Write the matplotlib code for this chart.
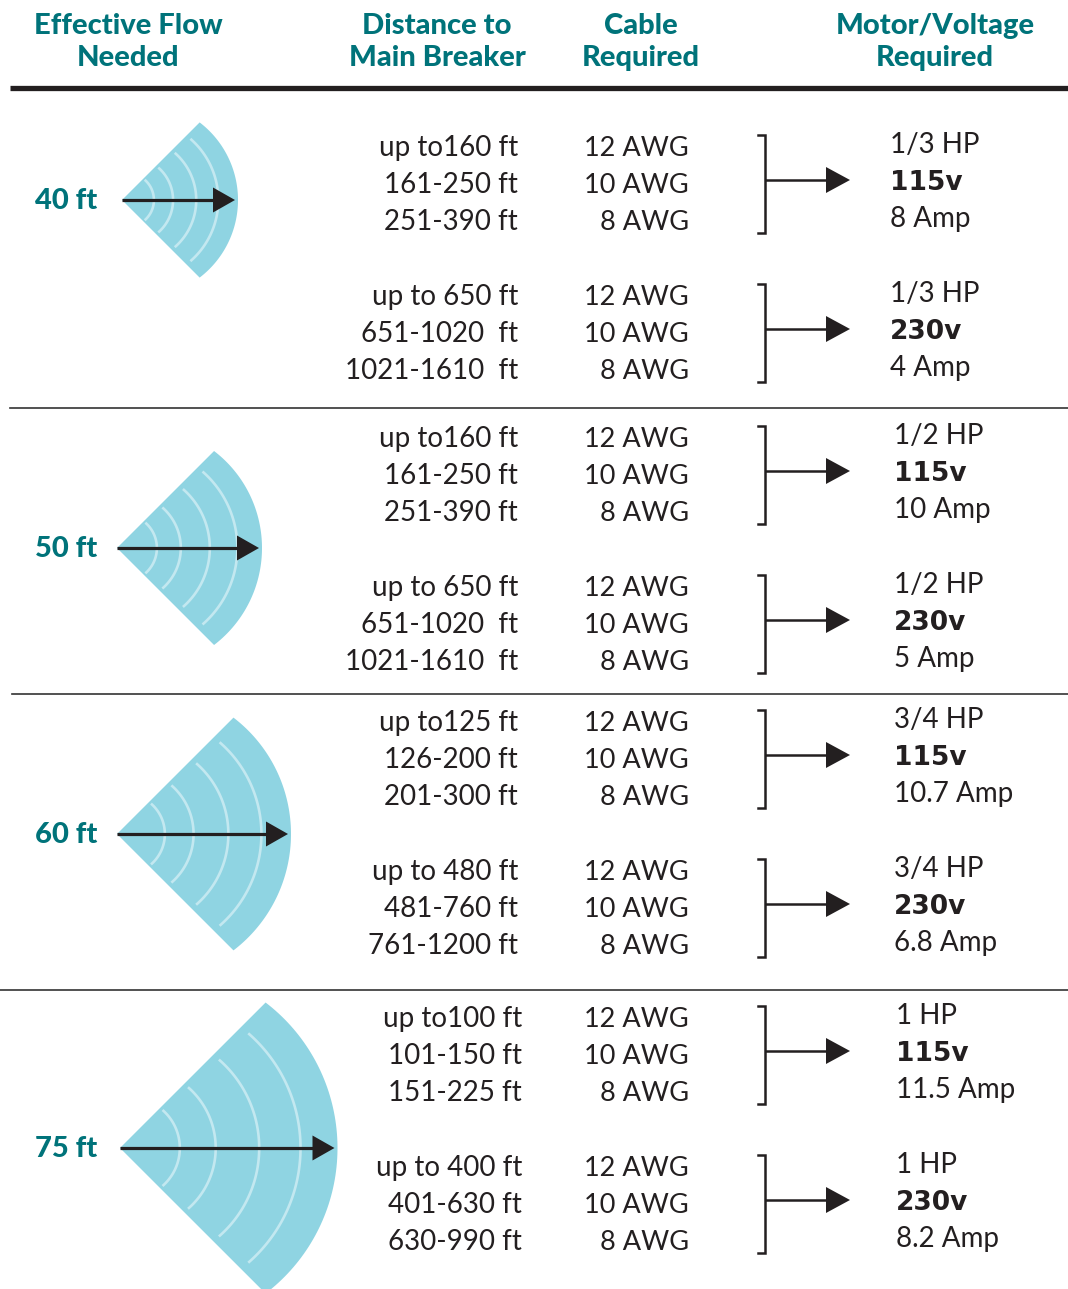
import matplotlib
matplotlib.use("Agg")
import numpy as np
import matplotlib.pyplot as plt
from matplotlib.patches import Polygon

# data
headers = ["Effective Flow\nNeeded", "Distance to\nMain Breaker", "Cable\nRequired", "Motor/Voltage\nRequired"]
flow_labels = ["40 ft", "50 ft", "60 ft", "75 ft"]
flow_ft = [40, 50, 60, 75]
distances = [
    [["up to160 ft", "161-250 ft", "251-390 ft"], ["up to 650 ft", "651-1020  ft", "1021-1610  ft"]],
    [["up to160 ft", "161-250 ft", "251-390 ft"], ["up to 650 ft", "651-1020  ft", "1021-1610  ft"]],
    [["up to125 ft", "126-200 ft", "201-300 ft"], ["up to 480 ft", "481-760 ft", "761-1200 ft"]],
    [["up to100 ft", "101-150 ft", "151-225 ft"], ["up to 400 ft", "401-630 ft", "630-990 ft"]],
]
cables = ["12 AWG", "10 AWG", "8 AWG"]
horsepower = ["1/3 HP", "1/2 HP", "3/4 HP", "1 HP"]
volts = ["115v", "230v"]
amps = [["8 Amp", "4 Amp"], ["10 Amp", "5 Amp"], ["10.7 Amp", "6.8 Amp"], ["11.5 Amp", "8.2 Amp"]]

TEAL = "#00737a"
DARK = "#231f20"
FAN = "#8fd4e2"
RING = "#c3e8f0"
FONT = ["Lato", "DejaVu Sans"]

fig = plt.figure(figsize=(10.68, 12.89), dpi=100)
ax = fig.add_axes([0, 0, 1, 1])
ax.set_xlim(0, 1068)
ax.set_ylim(1289, 0)
ax.axis("off")

# header
for x, h in zip([128, 437, 641, 935], headers):
    ax.text(x, 42, h, ha="center", va="center", color=TEAL, fontsize=21,
            fontweight=900, family=FONT, linespacing=1.3)
ax.plot([10, 1068], [88, 88], color=DARK, lw=3.8, solid_capstyle="butt")

# separators
for y, x0 in zip([408, 694, 990], [10, 12, 0]):
    ax.plot([x0, 1068], [y, y], color="#333333", lw=1.2)

group_y = [200, 548, 834, 1148]
first_rows = [[146, 295], [437, 586], [721, 870], [1017, 1166]]
dist_x = [518, 518, 518, 522]
motor_x = [890, 894, 894, 896]
apex_x = [122, 117, 117, 120]
step = 37

# fan outline: outer arc is a circle shifted right of the apex
SHIFT, RAD = 0.158, 0.842


def fan_arc(x0, y0, s, lim):
    a = np.radians(np.linspace(-lim, lim, 80))
    return x0 + s * (SHIFT + RAD * np.cos(a)), y0 + s * RAD * np.sin(a)


for g in range(4):
    cy = group_y[g]
    ax.text(97, cy + 9, flow_labels[g], ha="right", va="baseline", color=TEAL,
            fontsize=21, fontweight=900, family=FONT)
    r = 2.9 * flow_ft[g]
    x0 = apex_x[g]
    xs, ys = fan_arc(x0, cy, r, 52.6)
    pts = np.vstack([[x0, cy], np.column_stack([xs, ys])])
    ax.add_patch(Polygon(pts, closed=True, facecolor=FAN, edgecolor="none", zorder=1))
    for f in [0.275, 0.44, 0.64, 0.83]:
        xs, ys = fan_arc(x0, cy, r * f, 49)
        ax.plot(xs, ys, color=RING, lw=1.9, solid_capstyle="butt", zorder=2)
    tip = x0 + r - 3
    ax.plot([x0, tip - 10], [cy, cy], color=DARK, lw=2.3, solid_capstyle="butt", zorder=3)
    ax.add_patch(Polygon([[tip - 22, cy - 12.5], [tip, cy], [tip - 22, cy + 12.5]],
                         closed=True, facecolor=DARK, edgecolor="none", zorder=4))

    for s in range(2):
        y0 = first_rows[g][s]
        for i in range(3):
            yb = y0 + i * step + 10
            ax.text(dist_x[g], yb, distances[g][s][i], ha="right", va="baseline",
                    color=DARK, fontsize=20, family=FONT)
            ax.text(689, yb, cables[i], ha="right", va="baseline",
                    color=DARK, fontsize=19.5, family=FONT)
        mx = motor_x[g]
        ax.text(mx, y0 - 3 + 10, horsepower[g], ha="left", va="baseline",
                color=DARK, fontsize=20, family=FONT)
        ax.text(mx, y0 - 3 + step + 10, volts[s], ha="left", va="baseline",
                color=DARK, fontsize=19, fontweight="bold", family="DejaVu Sans")
        ax.text(mx, y0 - 3 + 2 * step + 10, amps[g][s], ha="left", va="baseline",
                color=DARK, fontsize=20, family=FONT)
        # bracket
        top, bot = y0 - 11, y0 + 2 * step + 13
        mid = y0 + step - 3
        ax.plot([758, 765, 765, 758], [top, top, bot, bot], color=DARK, lw=1.8,
                solid_joinstyle="miter")
        ax.plot([765, 835], [mid, mid], color=DARK, lw=1.8, solid_capstyle="butt")
        ax.add_patch(Polygon([[826, mid - 13], [850, mid], [826, mid + 13]],
                             closed=True, facecolor=DARK, edgecolor="none", zorder=4))

fig.savefig("out.png", dpi=100)
